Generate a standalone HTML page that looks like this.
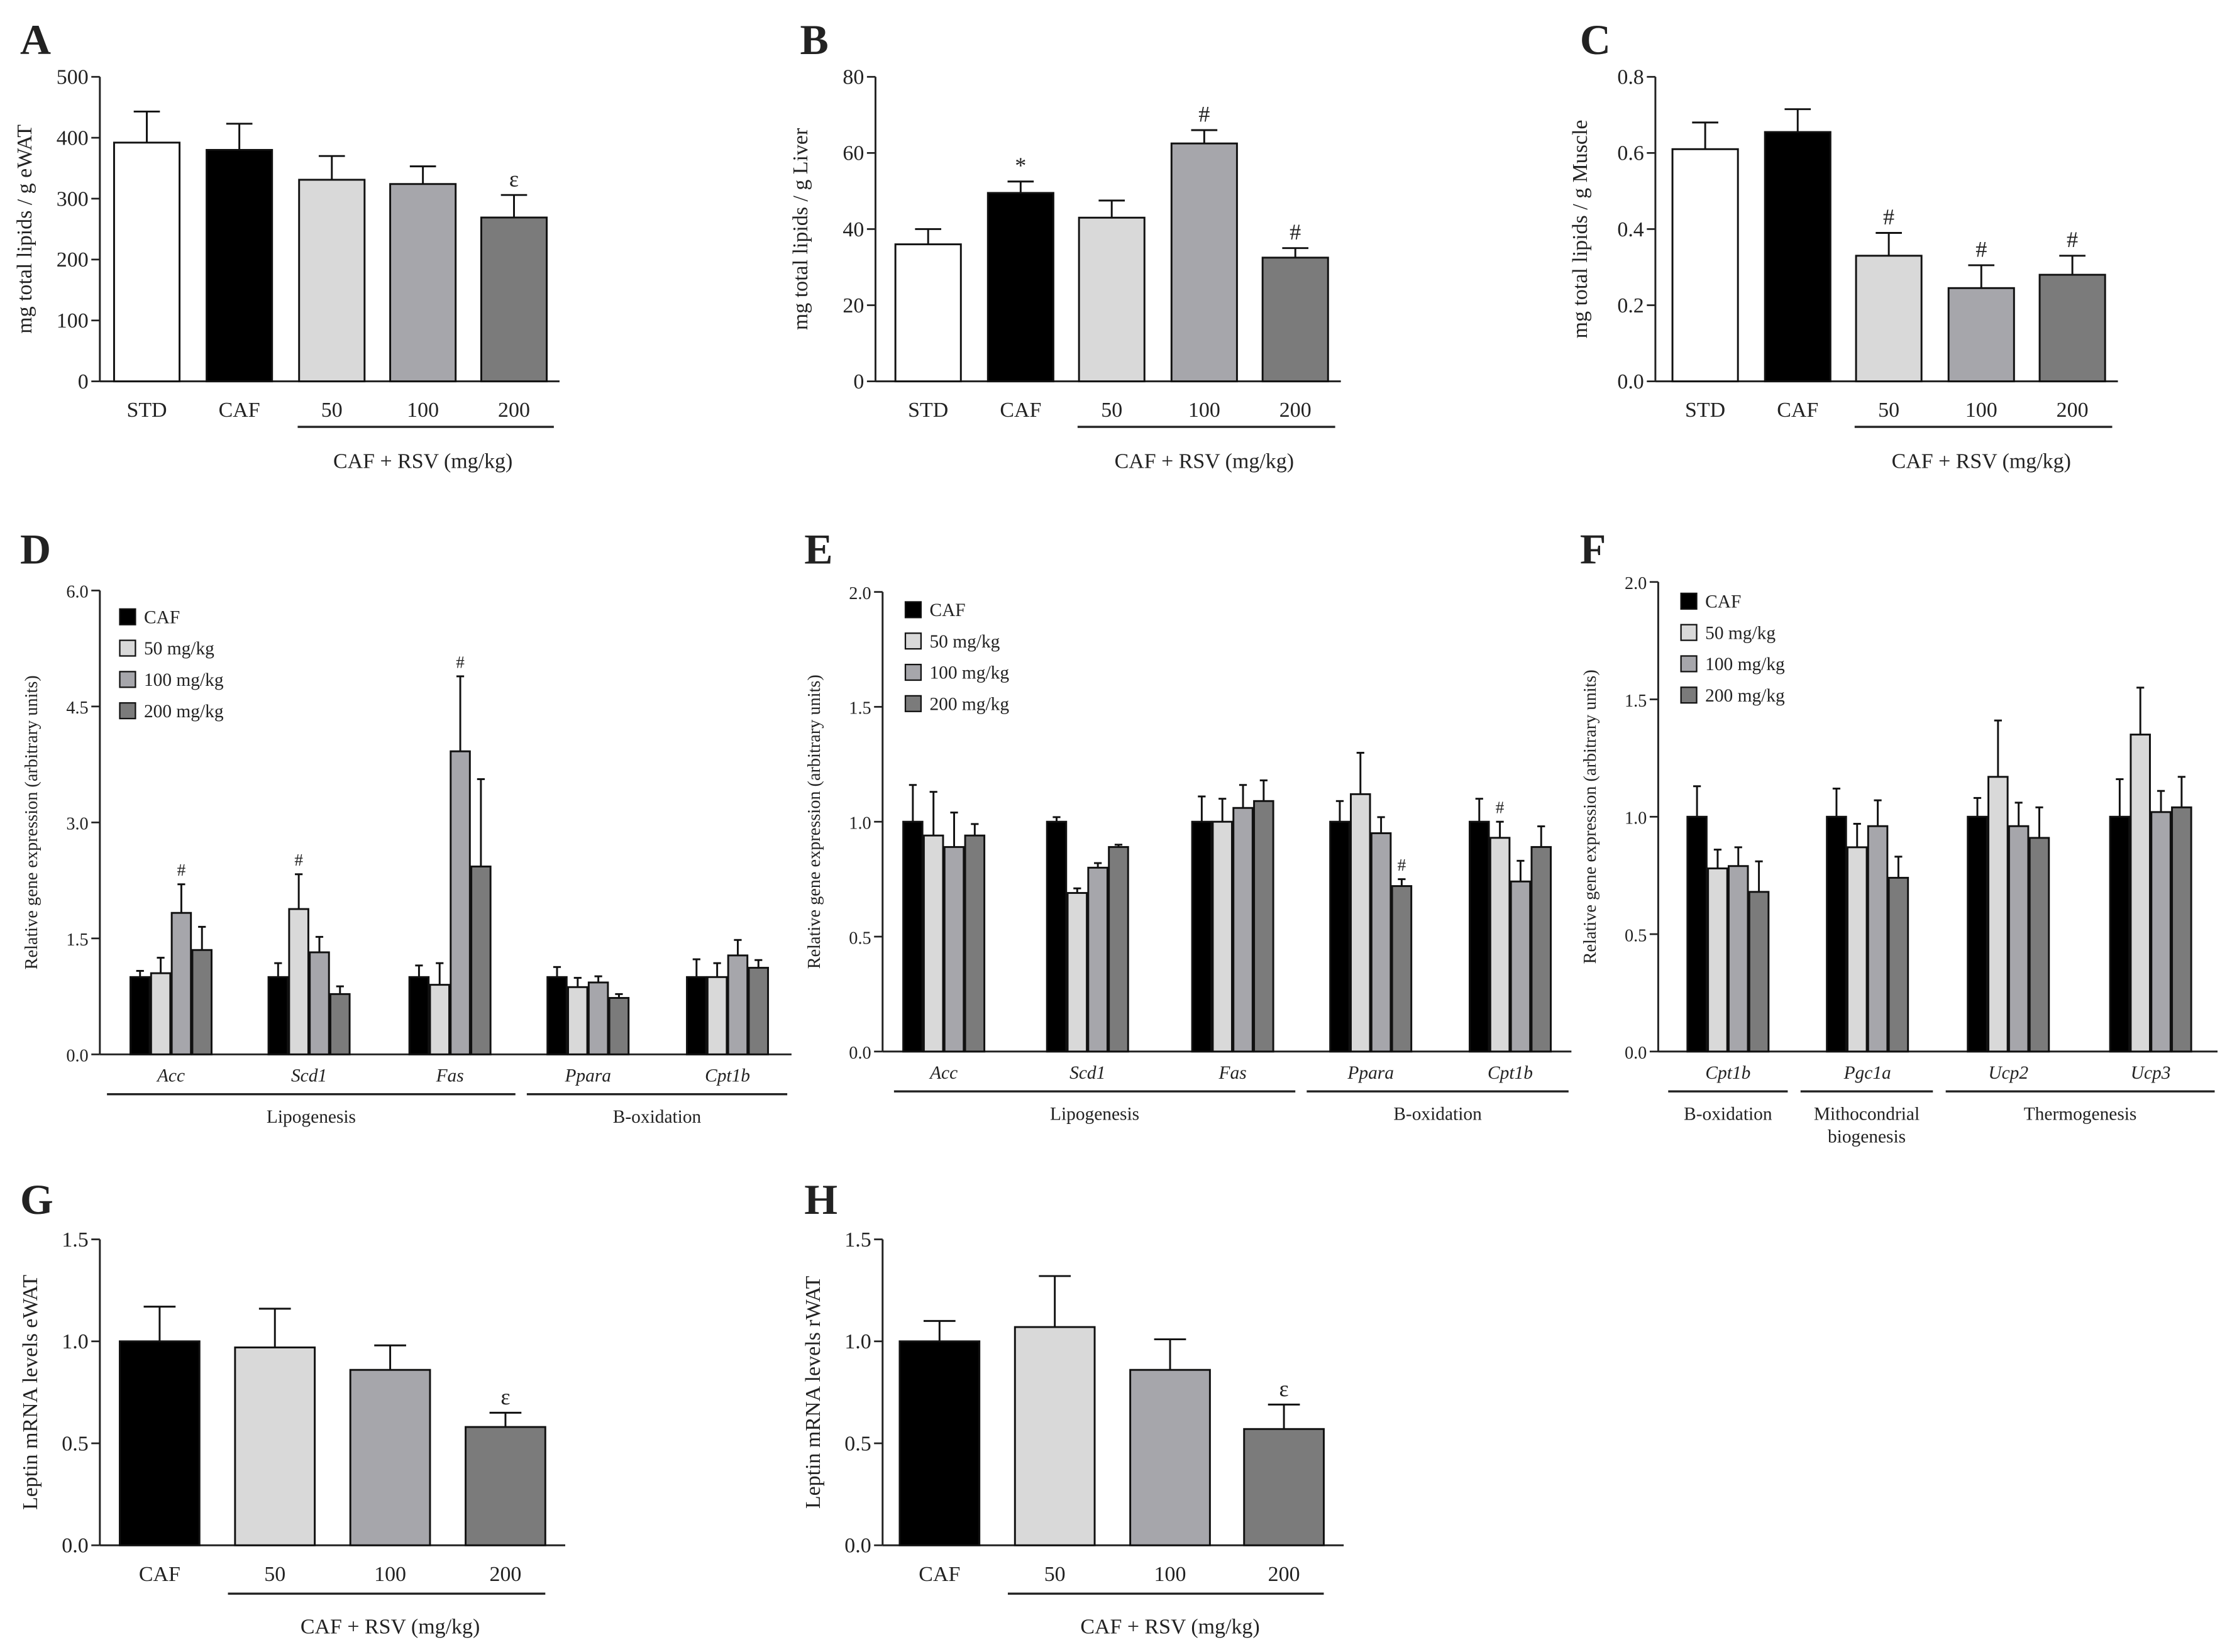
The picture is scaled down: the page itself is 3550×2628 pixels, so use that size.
<!DOCTYPE html>
<html><head><meta charset="utf-8"><style>
html,body{margin:0;padding:0;background:#fff}
svg{display:block}
text{font-family:"Liberation Serif",serif;fill:#222}
</style></head><body>
<svg id="fig" width="3550" height="2628" viewBox="0 0 1568 1161" xmlns="http://www.w3.org/2000/svg"></svg>
<script>
// ---- Data ----
const groupsABC = ["STD","CAF","50","100","200"];
const valsA = [392,380,331,324,269];
const errA = [51,43,39,29,37];
const marksA = ["","","","","ε"];
const valsB = [36,49.5,43,62.5,32.5];
const errB = [4,3,4.5,3.5,2.5];
const marksB = ["","*","","#","#"];
const valsC = [0.61,0.655,0.33,0.245,0.28];
const errC = [0.07,0.06,0.06,0.06,0.05];
const marksC = ["","","#","#","#"];
const ticksA = [0,100,200,300,400,500];
const ticksB = [0,20,40,60,80];
const ticksC = ["0.0","0.2","0.4","0.6","0.8"];

const seriesNames = ["CAF","50 mg/kg","100 mg/kg","200 mg/kg"];
const genesD = ["Acc","Scd1","Fas","Ppara","Cpt1b"];
const valsD = [[1.0,1.05,1.83,1.35],[1.0,1.88,1.32,0.78],[1.0,0.9,3.92,2.43],[1.0,0.87,0.93,0.73],[1.0,1.0,1.28,1.12]];
const errD = [[0.08,0.2,0.37,0.3],[0.18,0.45,0.2,0.1],[0.15,0.28,0.97,1.13],[0.13,0.12,0.08,0.05],[0.23,0.18,0.2,0.1]];
const marksD = [["","","#",""],["","#","",""],["","","#",""],["","","",""],["","","",""]];
const ticksD = ["0.0","1.5","3.0","4.5","6.0"];
const genesE = ["Acc","Scd1","Fas","Ppara","Cpt1b"];
const valsE = [[1.0,0.94,0.89,0.94],[1.0,0.69,0.8,0.89],[1.0,1.0,1.06,1.09],[1.0,1.12,0.95,0.72],[1.0,0.93,0.74,0.89]];
const errE = [[0.16,0.19,0.15,0.05],[0.02,0.02,0.02,0.01],[0.11,0.1,0.1,0.09],[0.09,0.18,0.07,0.03],[0.1,0.07,0.09,0.09]];
const marksE = [["","","",""],["","","",""],["","","",""],["","","","#"],["","#","",""]];
const genesF = ["Cpt1b","Pgc1a","Ucp2","Ucp3"];
const valsF = [[1.0,0.78,0.79,0.68],[1.0,0.87,0.96,0.74],[1.0,1.17,0.96,0.91],[1.0,1.35,1.02,1.04]];
const errF = [[0.13,0.08,0.08,0.13],[0.12,0.1,0.11,0.09],[0.08,0.24,0.1,0.13],[0.16,0.2,0.09,0.13]];
const ticksEF = ["0.0","0.5","1.0","1.5","2.0"];
const groupsGH = ["CAF","50","100","200"];
const valsG = [1.0,0.97,0.86,0.58];
const errG = [0.17,0.19,0.12,0.07];
const valsH = [1.0,1.07,0.86,0.57];
const errH = [0.1,0.25,0.15,0.12];
const marksGH = ["","","","ε"];
const ticksGH = ["0.0","0.5","1.0","1.5"];

const colABC = ["#ffffff","#000000","#d9d9d9","#a6a6ab","#7b7b7b"];
const col4 = ["#000000","#d9d9d9","#a6a6ab","#7b7b7b"];

const svg = document.getElementById('fig');
const NS = "http://www.w3.org/2000/svg";
function mk(tag, attrs, parent){const e=document.createElementNS(NS,tag);for(const k in attrs)e.setAttribute(k,attrs[k]);(parent||svg).appendChild(e);return e;}
function txt(s,x,y,size,anchor,parent,extra){const t=mk('text',Object.assign({x:x,y:y,'font-size':size,'text-anchor':anchor||'middle'},extra||{}),parent);t.textContent=s;return t;}

function axis(g,x0,y0,yTop,ticks,maxV,fs,title,titleX){
  const yS=v=>y0-(v/maxV)*(y0-yTop);
  const ax=mk('line',{x1:x0,y1:y0,x2:x0,y2:yTop,stroke:'#222','stroke-width':1.3},g);
  
  
  ticks.forEach(t=>{const v=parseFloat(t);const y=yS(v);
    mk('line',{x1:x0-6,y1:y,x2:x0,y2:y,stroke:'#222','stroke-width':1.2},g);
    const tl=txt(String(t),x0-8,y+5,fs,'end',g);
    
    
  });
  const tt=txt(title,0,0,fs,'middle',g,{transform:`translate(${titleX},${(y0+yTop)/2}) rotate(-90)`});
  
  
  return yS;
}
function bar(g,cx,w,v,e,yS,y0,fill,mark,fs){
  const r=mk('rect',{x:cx-w/2,y:yS(v),width:w,height:y0-yS(v),fill:fill,stroke:'#111','stroke-width':1.3},g);
  
  
  const yt=yS(v+e);
  mk('line',{x1:cx,y1:yS(v),x2:cx,y2:yt,stroke:'#111','stroke-width':1.3},g);
  mk('line',{x1:cx-w*0.2,y1:yt,x2:cx+w*0.2,y2:yt,stroke:'#111','stroke-width':1.3},g);
  if(mark){const m=txt(mark,cx,yt-6,fs,'middle',g);}
}
function panelLetter(s,x,y){const t=txt(s,x,y,30,'start',svg,{'font-weight':'bold'});}

// ---- Panels A-C ----
function panelABC(name,x0,centers,vals,errs,marks,ticks,maxV,title,bottomLabel){
  const g=mk('g',{});  
  const y0=268,yTop=54;
  const yS=axis(g,x0,y0,yTop,ticks,maxV,15,title,x0-48);
  mk('line',{x1:x0,y1:y0,x2:centers[4]+32,y2:y0,stroke:'#222','stroke-width':1.3},g);
  vals.forEach((v,i)=>{bar(g,centers[i],46,v,errs[i],yS,y0,colABC[i],marks[i],16);
    const l=txt(groupsABC[i],centers[i],293,15,'middle',g);});
  mk('line',{x1:centers[2]-24,y1:300,x2:centers[4]+28,y2:300,stroke:'#222','stroke-width':1.5},g);
  const bl=txt(bottomLabel,centers[3],329,15,'middle',g);
}
panelLetter('A',14,38);panelLetter('B',562,38);panelLetter('C',1110,38);
panelABC('panel-a-chart',70,[103,168,233,297,361],valsA,errA,marksA,ticksA,500,'mg total lipids / g eWAT','CAF + RSV (mg/kg)');
panelABC('panel-b-chart',615,[652,717,781,846,910],valsB,errB,marksB,ticksB,80,'mg total lipids / g Liver','CAF + RSV (mg/kg)');
panelABC('panel-c-chart',1163,[1198,1263,1327,1392,1456],valsC,errC,marksC,ticksC,0.8,'mg total lipids / g Muscle','CAF + RSV (mg/kg)');

// ---- Panels D-F ----
function legend(g,x,y,step){
  seriesNames.forEach((n,i)=>{
    const r=mk('rect',{x:x,y:y+i*step-10,width:11,height:11,fill:col4[i],stroke:'#111','stroke-width':1},g);
    
    const t=txt(n,x+17,y+i*step,13,'start',g);
  });
}
function panelGene(name,x0,y0,yTop,ticks,maxV,genes,centers,vals,errs,marks,groups,legXY,xEnd){
  const g=mk('g',{});  
  const yS=axis(g,x0,y0,yTop,ticks,maxV,12.5,'Relative gene expression (arbitrary units)',x0-44);
  mk('line',{x1:x0,y1:y0,x2:xEnd,y2:y0,stroke:'#222','stroke-width':1.3},g);
  genes.forEach((gn,gi)=>{
    vals[gi].forEach((v,si)=>{bar(g,centers[gi]-21.75+si*14.5,13.5,v,errs[gi][si],yS,y0,col4[si],marks[gi][si],12);});
    const l=txt(gn,centers[gi],y0+19,13,'middle',g,{'font-style':'italic'});
  });
  groups.forEach(gr=>{
    mk('line',{x1:gr[0],y1:y0+28,x2:gr[1],y2:y0+28,stroke:'#222','stroke-width':1.5},g);
    gr[2].forEach((s,k)=>{const t=txt(s,(gr[0]+gr[1])/2,y0+48+k*16,13,'middle',g);});
  });
  legend(g,legXY[0],legXY[1],22);
}
panelLetter('D',14,396);panelLetter('E',565,396);panelLetter('F',1110,396);
panelGene('panel-d-chart',70,741,415,ticksD,6,genesD,[120,217,316,413,511],valsD,errD,marksD,
  [[75,362,['Lipogenesis']],[370,553,['B-oxidation']]],[84,438],556);
panelGene('panel-e-chart',620,739,416,ticksEF,2,genesE,[663,764,866,963,1061],valsE,errE,marksE,
  [[628,910,['Lipogenesis']],[918,1102,['B-oxidation']]],[636,433],1104);
panelGene('panel-f-chart',1165,739,409,ticksEF,2,genesF,[1214,1312,1411,1511],valsF,errF,[["","","",""],["","","",""],["","","",""],["","","",""]],
  [[1172,1256,['B-oxidation']],[1265,1358,['Mithocondrial','biogenesis']],[1367,1556,['Thermogenesis']]],[1181,427],1558);

// ---- Panels G-H ----
function panelGH(name,x0,centers,vals,errs,title){
  const g=mk('g',{});  
  const y0=1086,yTop=871;
  const yS=axis(g,x0,y0,yTop,ticksGH,1.5,15,title,x0-44);
  mk('line',{x1:x0,y1:y0,x2:centers[3]+42,y2:y0,stroke:'#222','stroke-width':1.3},g);
  vals.forEach((v,i)=>{bar(g,centers[i],56,v,errs[i],yS,y0,col4[i],marksGH[i],16);
    const l=txt(groupsGH[i],centers[i],1111,15,'middle',g);});
  mk('line',{x1:centers[1]-33,y1:1120,x2:centers[3]+28,y2:1120,stroke:'#222','stroke-width':1.5},g);
  const bl=txt('CAF + RSV (mg/kg)',centers[2],1148,15,'middle',g);
}
panelLetter('G',14,853);panelLetter('H',565,853);
panelGH('panel-g-chart',70,[112,193,274,355],valsG,errG,'Leptin mRNA levels eWAT');
panelGH('panel-h-chart',620,[660,741,822,902],valsH,errH,'Leptin mRNA levels rWAT');
</script>
</body></html>
